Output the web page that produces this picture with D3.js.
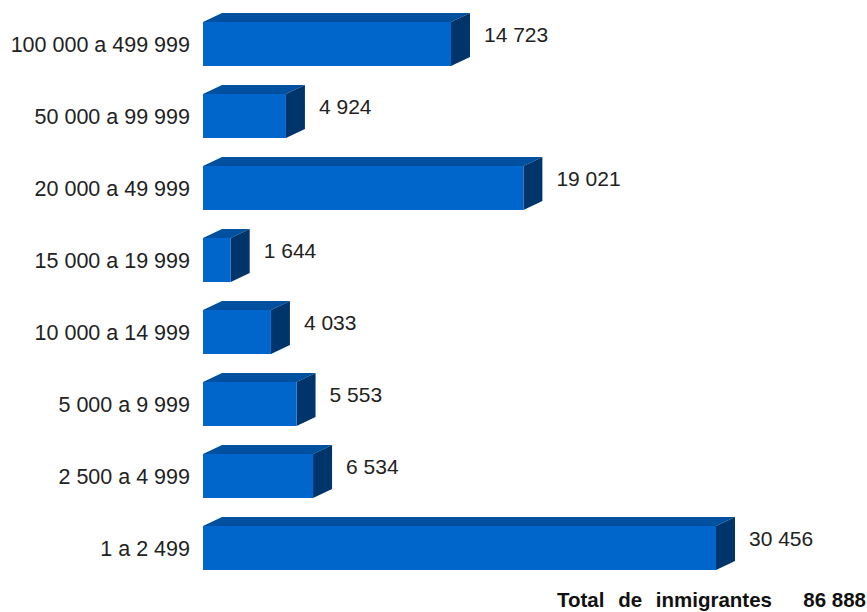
<!DOCTYPE html>
<html><head><meta charset="utf-8">
<script src="https://cdn.jsdelivr.net/npm/d3@7"></script>
<style>body{margin:0;background:#fff}svg{display:block}text{font-family:"Liberation Sans",Arial,sans-serif}</style>
</head><body><svg id="c" width="867" height="612"></svg>
<script>
const categories = ["100 000 a 499 999","50 000 a 99 999","20 000 a 49 999","15 000 a 19 999","10 000 a 14 999","5 000 a 9 999","2 500 a 4 999","1 a 2 499"];
const values = [14723, 4924, 19021, 1644, 4033, 5553, 6534, 30456];
const valueLabels = ["14 723","4 924","19 021","1 644","4 033","5 553","6 534","30 456"];
const totalLabel = "Total de inmigrantes";
const totalValue = "86 888";

const svg = d3.select("#c");
const x0 = 203;
const x = d3.scaleLinear().domain([0, 30456]).range([x0, 716]);
const y = d3.scaleBand().domain(categories).range([22, 22 + 8 * 72]).paddingInner(0).paddingOuter(0);
const dx = 19, dy = 9;
const bh = 44;
const g = svg.append("g");
categories.forEach((c, i) => {
  const v = values[i];
  const yt = y(c);
  const xr = x(v);
  g.append("path").attr("d", `M${x0},${yt}L${x0+dx},${yt-dy}L${xr+dx},${yt-dy}L${xr},${yt}Z`).attr("fill", "#0050a0");
  g.append("path").attr("d", `M${xr},${yt}L${xr+dx},${yt-dy}L${xr+dx},${yt+bh-dy}L${xr},${yt+bh}Z`).attr("fill", "#00356b");
  g.append("rect").attr("x", x0).attr("y", yt).attr("width", xr - x0).attr("height", bh).attr("fill", "#0066cc");
  g.append("text").attr("x", 190).attr("y", yt + 30).attr("text-anchor", "end")
    .attr("font-size", 21.5).attr("fill", "#222").text(c);
  g.append("text").attr("x", xr + dx + 14).attr("y", yt + 20).attr("font-size", 21).attr("fill", "#222").text(valueLabels[i]);
});
svg.append("text").attr("x", 557).attr("y", 607).attr("font-size", 20.5).attr("font-weight", "bold")
  .attr("word-spacing", 8).attr("fill", "#111").text(totalLabel);
svg.append("text").attr("x", 866).attr("y", 607).attr("text-anchor", "end").attr("font-size", 20.5).attr("font-weight", "bold")
  .attr("fill", "#111").text(totalValue);
</script></body></html>
